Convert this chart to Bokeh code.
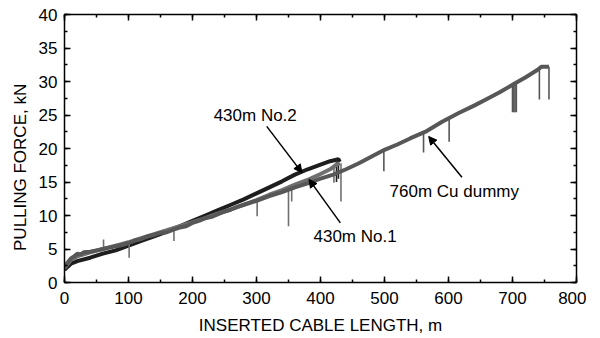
from bokeh.plotting import figure
from bokeh.models import Range1d, LinearAxis, FixedTicker, Arrow, NormalHead, ColumnDataSource
from bokeh.embed import file_html
from bokeh.resources import INLINE
from bokeh.core.properties import value

# ---- data ----
cu_x = [0, 5, 10, 15, 20, 25, 30, 40, 50, 60, 70, 80, 90, 100, 110, 120, 130, 140, 150, 160,
        170, 180, 190, 200, 210, 220, 230, 240, 250, 260, 270, 280, 290, 300, 320, 340, 360,
        380, 400, 420, 440, 460, 480, 500, 520, 540, 566, 590, 616, 640, 660, 680, 700, 720,
        740, 745, 757]
cu_y = [2.3, 3.0, 3.6, 3.9, 4.3, 4.2, 4.5, 4.6, 4.8, 5.0, 5.2, 5.4, 5.6, 5.9, 6.3, 6.5, 6.9,
        7.1, 7.4, 7.5, 7.9, 8.2, 8.4, 8.9, 9.2, 9.6, 9.8, 10.2, 10.6, 10.9, 11.3, 11.6, 11.9,
        12.2, 12.9, 13.5, 14.2, 14.8, 15.5, 16.1, 16.9, 17.8, 18.8, 19.8, 20.6, 21.5, 22.6,
        24.0, 25.3, 26.4, 27.4, 28.4, 29.5, 30.6, 31.8, 32.2, 32.2]

no2_x = [0, 10, 20, 40, 60, 80, 100, 120, 140, 160, 180, 200, 220, 240, 260, 280, 300, 320,
         340, 360, 380, 400, 415, 428, 430]
no2_y = [1.9, 2.8, 3.2, 3.7, 4.3, 4.8, 5.5, 6.2, 6.9, 7.6, 8.4, 9.2, 10.0, 10.8, 11.6, 12.4,
         13.3, 14.2, 15.1, 16.1, 16.9, 17.6, 18.1, 18.4, 18.0]

no1_x = [0, 10, 20, 40, 60, 80, 100, 120, 140, 160, 180, 200, 220, 240, 260, 280, 300, 320,
         340, 360, 382, 400, 415, 425, 430]
no1_y = [2.1, 3.4, 3.9, 4.5, 5.0, 5.5, 6.0, 6.6, 7.2, 7.8, 8.4, 9.0, 9.6, 10.3, 10.9, 11.6,
         12.3, 13.1, 13.8, 14.6, 15.4, 16.2, 16.9, 17.6, 17.8]

# spikes: position, level on the curve, level reached by the spike
cu_spk_x = [499, 561, 601, 700, 702, 704, 706, 742, 757]
cu_spk_top = [19.8, 22.3, 24.6, 29.5, 29.6, 29.7, 29.8, 31.9, 32.2]
cu_spk_bot = [16.6, 19.4, 21.0, 25.4, 25.4, 25.4, 25.4, 27.3, 27.3]

no1_spk_x = [61, 101, 171, 301, 350, 355, 421, 432]
no1_spk_top = [5.0, 6.0, 7.9, 12.3, 14.2, 14.4, 17.3, 17.8]
no1_spk_bot = [6.4, 3.7, 6.2, 9.9, 8.4, 12.1, 14.9, 12.1]

no2_spk_x = [425, 428]
no2_spk_top = [18.0, 18.4]
no2_spk_bot = [15.0, 15.5]

x_ticks = [0, 100, 200, 300, 400, 500, 600, 700, 800]
y_ticks = [0, 5, 10, 15, 20, 25, 30, 35, 40]

FONT = "Liberation Sans"
C_CU = "#575757"
C_NO1 = "#6f6f6f"
C_NO2 = "#1e1e1e"

p = figure(frame_width=512, frame_height=268, output_backend="svg", toolbar_location=None,
           x_range=Range1d(0, 800), y_range=Range1d(0, 40),
           min_border_left=64, min_border_right=10, min_border_top=14, min_border_bottom=40)
p.grid.visible = False
p.outline_line_color = None
p.background_fill_color = "white"

# curves
p.line(no2_x, no2_y, line_color=C_NO2, line_width=4)
p.segment(no2_spk_x, no2_spk_top, no2_spk_x, no2_spk_bot, line_color=C_NO2, line_width=1.6)
p.line(no1_x, no1_y, line_color=C_NO1, line_width=4)
p.segment(no1_spk_x, no1_spk_top, no1_spk_x, no1_spk_bot, line_color=C_NO1, line_width=1.6)
p.line(cu_x, cu_y, line_color=C_CU, line_width=4)
p.segment(cu_spk_x, cu_spk_top, cu_spk_x, cu_spk_bot, line_color=C_CU, line_width=1.6)

# axes
def style(ax, labels=True):
    ax.axis_line_width = 1.5
    ax.axis_line_color = "black"
    ax.major_tick_in = 6
    ax.major_tick_out = 0
    ax.minor_tick_in = 3
    ax.minor_tick_out = 0
    ax.major_tick_line_width = 1.5
    ax.minor_tick_line_width = 1.5
    ax.major_tick_line_color = "black"
    ax.minor_tick_line_color = "black"
    ax.major_label_text_font = FONT
    ax.axis_label_text_font = FONT
    ax.axis_label_text_font_style = "normal"
    ax.axis_label_text_font_size = "17px"
    ax.axis_label_text_color = "black"
    if labels:
        ax.major_label_text_color = "black"
        ax.major_label_text_font_size = "17px"
        ax.major_label_standoff = 7
        ax.axis_label_standoff = 8
    else:
        ax.major_label_text_color = None
        ax.major_label_text_font_size = "1px"
        ax.major_label_standoff = 0
        ax.axis_label_standoff = 0

p.xaxis.ticker = FixedTicker(ticks=x_ticks, minor_ticks=list(range(0, 801, 50)))
p.yaxis.ticker = FixedTicker(ticks=y_ticks, minor_ticks=[i * 2.5 for i in range(17)])
p.xaxis.axis_label = "INSERTED CABLE LENGTH, m"
# trailing no-break spaces move the visible label slightly below the frame centre
p.yaxis.axis_label = "PULLING FORCE, kN" + "\u00a0" * 8
style(p.xaxis[0])
style(p.yaxis[0])
p.xaxis[0].major_label_standoff = 9
p.xaxis[0].axis_label_standoff = 9
p.yaxis[0].axis_label_standoff = 6

top = LinearAxis(ticker=FixedTicker(ticks=x_ticks, minor_ticks=list(range(0, 801, 50))))
right = LinearAxis(ticker=FixedTicker(ticks=y_ticks, minor_ticks=[i * 2.5 for i in range(17)]))
style(top, labels=False)
style(right, labels=False)
p.add_layout(top, "above")
p.add_layout(right, "right")

# annotations
ann_text = ["430m No.2", "430m No.1", "760m Cu dummy"]
ann_x = [298, 454, 609]
ann_y = [25.0, 6.9, 13.6]
p.text(ann_x, ann_y, text=ann_text, text_font=value(FONT), text_font_size="17px",
       text_align="center", text_baseline="middle", text_color="black")

arr_x0 = [316, 431, 621]
arr_y0 = [23.3, 8.9, 15.7]
arr_x1 = [371, 382, 569]
arr_y1 = [16.4, 15.4, 21.8]
src = ColumnDataSource(dict(x0=arr_x0, y0=arr_y0, x1=arr_x1, y1=arr_y1))
p.add_layout(Arrow(end=NormalHead(size=8, fill_color="black", line_color="black"),
                   x_start="x0", y_start="y0", x_end="x1", y_end="y1", source=src,
                   line_color="black", line_width=1.5))

open("out.html", "w").write(file_html(p, INLINE))
